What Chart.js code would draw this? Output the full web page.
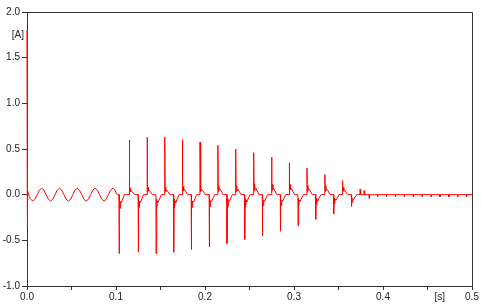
<!DOCTYPE html>
<html>
<head>
<meta charset="utf-8">
<script src="https://cdn.jsdelivr.net/npm/chart.js@4.4.0/dist/chart.umd.min.js"></script>
<style>
  html, body { margin: 0; padding: 0; background: #fff; }
</style>
</head>
<body>
<canvas id="chart" width="481" height="304"></canvas>
<script>
// Arranque: pico inicial y rizado de 50 Hz
const sineT = [0, 0.0002, 0.0008, 0.0025, 0.004, 0.0065, 0.009, 0.0115, 0.014, 0.0165, 0.019,
  0.0215, 0.024, 0.0265, 0.029, 0.0315, 0.034, 0.0365, 0.039, 0.0415, 0.044, 0.0465, 0.049,
  0.0515, 0.054, 0.0565, 0.059, 0.0615, 0.064, 0.0665, 0.069, 0.0715, 0.074, 0.0765, 0.079,
  0.0815, 0.084, 0.0865, 0.089, 0.0915, 0.094, 0.0965, 0.099, 0.1005, 0.1015];
const sineA = [1.80, -0.36, 0.05, -0.02, -0.05, -0.07, -0.05, 0, 0.05, 0.07, 0.05,
  0, -0.05, -0.07, -0.05, 0, 0.05, 0.07, 0.05, 0, -0.05, -0.07, -0.05,
  0, 0.05, 0.07, 0.05, 0, -0.05, -0.07, -0.05, 0, 0.05, 0.07, 0.05,
  0, -0.05, -0.07, -0.05, 0, 0.05, 0.07, 0.05, 0.01, 0];

// Picos negativos de conmutación
const negT = [0.1035, 0.1250, 0.1450, 0.1648, 0.1846, 0.2048, 0.2247, 0.2446, 0.2645, 0.2847,
  0.3045, 0.3244, 0.3446, 0.3645, 0.3843];
const negA = [-0.645, -0.63, -0.645, -0.63, -0.60, -0.57, -0.535, -0.49, -0.45, -0.40,
  -0.34, -0.27, -0.21, -0.13, -0.04];
const negDip = [-0.15, -0.14, -0.14, -0.14, -0.14, -0.13, -0.13, -0.13, -0.12, -0.12,
  -0.12, -0.11, -0.10, -0.085, 0];

// Picos positivos de conmutación
const posT = [0.1150, 0.1350, 0.1548, 0.1746, 0.1944, 0.2145, 0.2345, 0.2547, 0.2748, 0.2947,
  0.3146, 0.3347, 0.3544, 0.3742, 0.3787];
const posA = [0.60, 0.63, 0.63, 0.60, 0.575, 0.54, 0.50, 0.46, 0.41, 0.35,
  0.29, 0.22, 0.154, 0.06, 0.044];
const posBump = [0.07, 0.08, 0.08, 0.09, 0.09, 0.10, 0.10, 0.12, 0.11, 0.11,
  0.10, 0.10, 0.08, 0, 0];

// Pequeñas marcas al final
const tailT = [0.394, 0.404, 0.414, 0.424, 0.434, 0.444, 0.454, 0.464, 0.474, 0.484, 0.494];
const tailA = [-0.025, -0.025, -0.025, -0.025, -0.025, -0.025, -0.025, -0.025, -0.025, -0.025, -0.025];

// Forma del rebote tras cada pico
const ringDt = [0.0004, 0.0010, 0.0015, 0.0024, 0.0060];
const ringShape = [0.35, 1.0, 0.5, 0.6, 0.0];

const xTicks = [0, 0.1, 0.2, 0.3, 0.4, 0.5];
const yTicks = [-1.0, -0.5, 0.0, 0.5, 1.0, 1.5, 2.0];

// Construir la traza
const events = [];
negT.forEach((t, i) => events.push({ t, peak: negA[i], ring: negDip[i] }));
posT.forEach((t, i) => events.push({ t, peak: posA[i], ring: posBump[i] }));
events.sort((a, b) => a.t - b.t);

const points = sineT.map((t, i) => ({ x: t, y: sineA[i] }));
events.forEach(ev => {
  points.push({ x: ev.t - 0.0001, y: 0 });
  points.push({ x: ev.t, y: ev.peak });
  ringDt.forEach((dt, k) => points.push({ x: ev.t + dt, y: ev.ring * ringShape[k] }));
});
tailT.forEach((t, i) => {
  points.push({ x: t - 0.0001, y: 0 });
  points.push({ x: t, y: tailA[i] });
  points.push({ x: t + 0.0002, y: 0 });
});
points.push({ x: 0.5, y: 0 });

const axisColor = '#333';
const font = { family: 'Liberation Sans, Arial, sans-serif', size: 10 };

// Marco superior/derecho y etiquetas de unidades
const framePlugin = {
  id: 'frame',
  afterDraw(chart) {
    const { ctx, chartArea, scales } = chart;
    ctx.save();
    ctx.strokeStyle = axisColor;
    ctx.lineWidth = 1;
    ctx.beginPath();
    ctx.moveTo(chartArea.left, chartArea.top + 0.5);
    ctx.lineTo(chartArea.right + 0.5, chartArea.top + 0.5);
    ctx.lineTo(chartArea.right + 0.5, chartArea.bottom);
    ctx.stroke();
    ctx.fillStyle = '#222';
    ctx.font = '10px Liberation Sans, Arial, sans-serif';
    ctx.textBaseline = 'middle';
    ctx.textAlign = 'right';
    ctx.fillText('[A]', 24, scales.y.getPixelForValue(1.75));
    ctx.textAlign = 'center';
    ctx.fillText('[s]', scales.x.getPixelForValue(0.4637), 297);
    ctx.restore();
  }
};

const ctx = document.getElementById('chart').getContext('2d');
const chart = new Chart(ctx, {
  type: 'line',
  data: {
    datasets: [{
      data: points,
      borderColor: '#ff0000',
      borderWidth: 1,
      pointRadius: 0,
      tension: 0,
      fill: false,
      clip: false
    }]
  },
  options: {
    responsive: false,
    animation: false,
    devicePixelRatio: 1,
    parsing: false,
    layout: { padding: { top: 12, right: 9, left: 0, bottom: 0 } },
    plugins: { legend: { display: false }, tooltip: { enabled: false } },
    scales: {
      x: {
        type: 'linear',
        min: 0,
        max: 0.5,
        afterFit: s => { s.height = 18; },
        afterBuildTicks: s => {
          s.ticks = [];
          for (let k = 0; k <= 10; k++) s.ticks.push({ value: k * 0.05 });
        },
        grid: { display: true, drawOnChartArea: false, drawTicks: true, tickLength: 4, color: axisColor, z: -1 },
        border: { display: true, color: axisColor, z: -1 },
        ticks: {
          autoSkip: false,
          maxRotation: 0,
          padding: 1,
          color: '#222',
          font: font,
          callback: v => {
            const hit = xTicks.find(t => Math.abs(t - v) < 1e-6);
            return hit === undefined ? '' : hit.toFixed(1);
          }
        }
      },
      y: {
        type: 'linear',
        min: -1,
        max: 2,
        afterFit: s => { s.width = 27; },
        afterBuildTicks: s => { s.ticks = yTicks.map(v => ({ value: v })); },
        grid: { display: true, drawOnChartArea: false, drawTicks: true, tickLength: 5, color: axisColor, z: -1 },
        border: { display: true, color: axisColor, z: -1 },
        ticks: {
          padding: 2,
          color: '#222',
          font: font,
          callback: v => v.toFixed(1)
        }
      }
    }
  },
  plugins: [framePlugin]
});
</script>
</body>
</html>
